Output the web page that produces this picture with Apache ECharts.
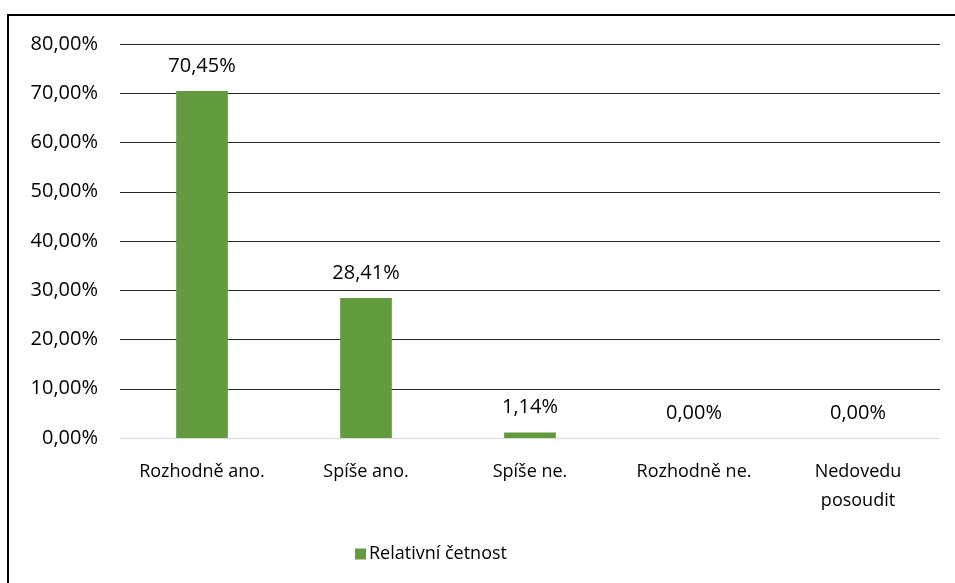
<!DOCTYPE html>
<html>
<head>
<meta charset="utf-8">
<script src="https://cdn.jsdelivr.net/npm/echarts@6/dist/echarts.min.js"></script>
<style>
  html, body { margin: 0; padding: 0; background: #fff; }
  #frame { position: absolute; left: 7px; top: 14px; width: 960px; height: 600px; border-top: 2px solid #000; border-left: 2px solid #000; }
  #chart { position: absolute; left: 0; top: 0; width: 955px; height: 583px; }
</style>
</head>
<body>
<div id="frame"></div>
<div id="chart"></div>
<script>
// data
const categories = ['Rozhodně ano.', 'Spíše ano.', 'Spíše ne.', 'Rozhodně ne.', 'Nedovedu\nposoudit']
const values = [70.45, 28.41, 1.14, 0, 0]
const seriesName = 'Relativní četnost'

const fmt = v => v.toFixed(2).replace('.', ',') + '%'
const font = '"Open Sans", sans-serif'

const chart = echarts.init(document.getElementById('chart'))
chart.setOption({
  animation: false,
  grid: { left: 120, right: 15, top: 44, bottom: 145 },
  legend: {
    left: 350,
    top: 540,
    itemWidth: 11,
    itemHeight: 11,
    itemGap: 4,
    icon: 'rect',
    textStyle: { fontFamily: font, fontSize: 18, color: '#000', padding: [0, 0, 0, -2] },
    data: [seriesName]
  },
  xAxis: {
    type: 'category',
    data: categories,
    axisLine: { lineStyle: { color: '#d9d9d9', width: 1 } },
    axisTick: { show: false },
    axisLabel: { fontFamily: font, fontSize: 18, color: '#000', margin: 19, lineHeight: 29 }
  },
  yAxis: {
    type: 'value',
    min: 0,
    max: 80,
    interval: 10,
    axisLine: { show: false },
    axisTick: { show: false },
    splitLine: { lineStyle: { color: '#262626', width: 1 } },
    axisLabel: { fontFamily: font, fontSize: 20, color: '#000', margin: 22, formatter: fmt }
  },
  series: [{
    name: seriesName,
    type: 'bar',
    data: values,
    barWidth: '31.5%',
    itemStyle: { color: '#629b3e' },
    label: {
      show: true,
      position: 'top',
      distance: 15,
      fontFamily: font,
      fontSize: 20,
      color: '#000',
      formatter: p => fmt(p.value)
    }
  }]
})
</script>
</body>
</html>
